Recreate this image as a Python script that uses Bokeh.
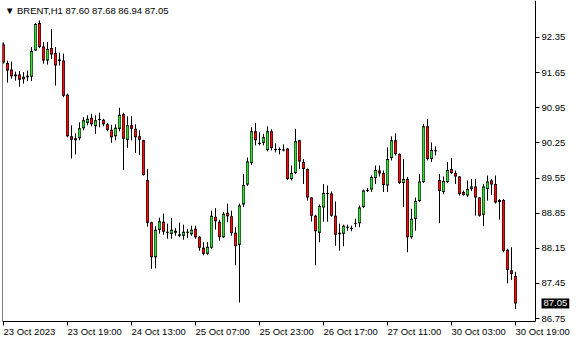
from bokeh.plotting import figure
from bokeh.models import FixedTicker, Label, Range1d, ColumnDataSource, LinearAxis
from bokeh.embed import file_html
from bokeh.resources import INLINE

symbol = "BRENT,H1"

opens = [92.21, 91.84, 91.71, 91.61, 91.61, 91.52, 91.56, 91.57, 92.09, 92.64,
         92.17, 91.89, 92.14, 92.04, 91.91, 91.89, 91.21, 90.38, 90.34, 90.34,
         90.54, 90.65, 90.75, 90.58, 90.71, 90.71, 90.62, 90.51, 90.38, 90.53,
         90.82, 90.31, 90.60, 90.53, 90.38, 90.30, 89.51, 88.67, 87.97, 88.52,
         88.68, 88.48, 88.44, 88.46, 88.43, 88.40, 88.48, 88.43, 88.54, 88.38,
         88.16, 88.04, 88.16, 88.78, 88.68, 88.37, 88.86, 88.79, 88.46, 88.22,
         89.02, 89.42, 89.85, 90.48, 90.25, 90.25, 90.11, 90.48, 90.13, 90.12,
         90.12, 90.14, 89.53, 89.65, 90.30, 89.87, 89.73, 89.16, 88.80, 88.46,
         88.96, 89.25, 89.24, 88.80, 88.46, 88.44, 88.58, 88.55, 88.64, 88.65,
         88.97, 89.29, 89.32, 89.55, 89.70, 89.65, 89.40, 89.95, 90.30, 90.03,
         89.45, 89.53, 88.37, 88.74, 89.09, 89.47, 90.58, 89.93, 90.10, 89.51,
         89.27, 89.47, 89.73, 89.65, 89.58, 89.27, 89.20, 89.33, 89.38, 89.16,
         88.82, 89.33, 89.50, 89.43, 89.07, 89.11, 88.12, 87.71, 87.60]
highs = [92.25, 91.89, 91.87, 91.67, 91.68, 91.66, 91.69, 92.16, 92.64, 92.69,
         92.26, 92.26, 92.52, 92.16, 92.05, 92.03, 91.23, 90.60, 90.44, 90.66,
         90.76, 90.80, 90.83, 90.80, 90.85, 90.73, 90.65, 90.61, 90.62, 90.95,
         90.85, 90.78, 90.78, 90.62, 90.50, 90.31, 89.73, 88.68, 88.59, 88.76,
         88.84, 88.64, 88.75, 88.55, 88.66, 88.62, 88.54, 88.60, 88.60, 88.39,
         88.27, 88.27, 88.90, 88.95, 88.72, 88.87, 89.04, 88.90, 88.57, 89.04,
         89.63, 89.96, 90.56, 90.65, 90.46, 90.43, 90.58, 90.52, 90.24, 90.16,
         90.22, 90.15, 89.80, 90.53, 90.31, 89.93, 89.74, 89.17, 88.82, 89.02,
         89.43, 89.40, 89.28, 89.08, 88.64, 88.62, 88.62, 88.60, 88.74, 89.00,
         89.32, 89.35, 89.60, 89.80, 89.80, 89.70, 90.16, 90.38, 90.44, 90.04,
         89.93, 89.57, 88.94, 89.16, 89.63, 90.63, 90.73, 90.26, 90.18, 89.63,
         89.58, 89.87, 89.95, 89.70, 89.59, 89.30, 89.50, 89.53, 89.53, 89.17,
         89.43, 89.60, 89.53, 89.60, 89.13, 89.13, 88.14, 88.17, 87.68]
lows = [91.83, 91.45, 91.53, 91.49, 91.37, 91.43, 91.48, 91.48, 92.08, 92.14,
        91.83, 91.81, 91.92, 91.39, 91.79, 91.16, 90.36, 89.94, 90.02, 90.30,
        90.50, 90.60, 90.58, 90.43, 90.56, 90.58, 90.48, 90.25, 90.30, 90.48,
        89.71, 90.15, 90.30, 90.05, 90.01, 89.60, 88.58, 87.74, 87.75, 88.44,
        88.42, 88.34, 88.34, 88.40, 88.37, 88.32, 88.35, 88.40, 88.34, 88.10,
        88.01, 88.02, 88.14, 88.52, 88.30, 88.36, 88.67, 88.40, 87.81, 87.07,
        88.97, 89.39, 89.81, 90.20, 90.20, 90.20, 90.08, 90.10, 90.06, 90.02,
        90.08, 89.51, 89.50, 89.63, 89.73, 89.43, 89.10, 88.68, 87.81, 88.27,
        88.68, 88.68, 88.78, 88.20, 88.10, 88.19, 88.50, 88.49, 88.57, 88.57,
        88.95, 89.27, 89.27, 89.43, 89.58, 89.27, 89.27, 89.90, 90.00, 89.43,
        88.97, 88.07, 88.34, 88.50, 89.07, 89.45, 89.90, 89.87, 90.00, 88.65,
        89.23, 89.45, 89.63, 89.43, 89.20, 89.20, 89.17, 89.29, 88.80, 88.78,
        88.59, 89.10, 89.21, 89.04, 88.72, 88.07, 87.45, 87.52, 86.94]
closes = [91.85, 91.69, 91.58, 91.58, 91.51, 91.57, 91.59, 92.08, 92.62, 92.16,
          91.89, 92.12, 92.01, 91.79, 91.88, 91.19, 90.38, 90.31, 90.30, 90.54,
          90.70, 90.73, 90.62, 90.70, 90.72, 90.62, 90.51, 90.36, 90.55, 90.81,
          90.33, 90.60, 90.53, 90.36, 90.31, 89.61, 88.66, 87.97, 88.52, 88.69,
          88.48, 88.46, 88.52, 88.50, 88.40, 88.48, 88.46, 88.52, 88.37, 88.16,
          88.04, 88.18, 88.80, 88.69, 88.37, 88.84, 88.79, 88.45, 88.19, 89.00,
          89.41, 89.88, 90.48, 90.30, 90.23, 90.36, 90.48, 90.15, 90.11, 90.12,
          90.10, 89.53, 89.65, 90.28, 89.88, 89.73, 89.16, 88.80, 88.49, 88.99,
          89.25, 89.23, 88.80, 88.42, 88.43, 88.60, 88.56, 88.54, 88.66, 88.96,
          89.30, 89.31, 89.57, 89.71, 89.64, 89.41, 89.93, 90.30, 90.03, 89.45,
          89.53, 88.37, 88.74, 89.09, 89.48, 90.58, 89.93, 90.11, 90.09, 89.29,
          89.49, 89.71, 89.65, 89.58, 89.23, 89.21, 89.33, 89.38, 89.16, 88.80,
          89.38, 89.48, 89.42, 89.06, 89.11, 88.10, 87.72, 87.64, 87.05]

time_tick_bars = [0, 16, 32, 48, 64, 80, 96, 112, 128]
time_tick_labels = ["23 Oct 2023", "23 Oct 19:00", "24 Oct 13:00", "25 Oct 07:00",
                    "25 Oct 23:00", "26 Oct 17:00", "27 Oct 11:00", "30 Oct 03:00",
                    "30 Oct 19:00"]
price_ticks = [92.35, 91.65, 90.95, 90.25, 89.55, 88.85, 88.15, 87.45, 86.75]
price_tick_labels = ["92.35", "91.65", "90.95", "90.25", "89.55", "88.85", "88.15", "87.45", "86.75"]

BULL = "#3ED63E"
BEAR = "#E81010"
FONT = "Liberation Sans"
FS = "9.5px"

W, H = 580, 340
# the chart window: bars area ends at the price scale (x_edge) and at the time scale (y_edge)
x_lo, x_edge, x_hi = -0.25, 133.0, 144.25
y_lo, y_edge, y_hi = 86.312, 86.69, 93.087
px = (y_hi - y_lo) / H          # one screen pixel in price units

n = len(opens)
bars = list(range(n))
mids = [(o + c) / 2 for o, c in zip(opens, closes)]
# black body at least one pixel tall; coloured core inset by one pixel
b_top = [max(max(o, c), m + px / 2) for o, c, m in zip(opens, closes, mids)]
b_bot = [min(min(o, c), m - px / 2) for o, c, m in zip(opens, closes, mids)]
core_top = [t - px if (t - b) > 2 * px else m for t, b, m in zip(b_top, b_bot, mids)]
core_bot = [b + px if (t - b) > 2 * px else m for t, b, m in zip(b_top, b_bot, mids)]
fills = [BULL if c > o else (BEAR if c < o else "black") for o, c in zip(opens, closes)]

src = ColumnDataSource(dict(x=bars, h=highs, l=lows, bt=b_top, bb=b_bot,
                            ct=core_top, cb=core_bot, fill=fills))

p = figure(width=W, height=H, output_backend="svg", toolbar_location=None,
           x_range=Range1d(x_lo, x_hi), y_range=Range1d(y_lo, y_hi),
           min_border_left=2, min_border_right=0, min_border_top=0, min_border_bottom=0,
           x_axis_location=None, y_axis_location=None)
p.outline_line_color = None
p.xgrid.visible = False
p.ygrid.visible = False
p.background_fill_color = "white"
p.border_fill_color = "white"

# left frame line
p.segment(x0=[x_lo], y0=[y_edge], x1=[x_lo], y1=[92.25], line_color="black", line_width=1)

# wicks, black bodies, coloured cores
p.segment(x0="x", y0="l", x1="x", y1="h", source=src, line_color="black", line_width=1)
p.vbar(x="x", top="bt", bottom="bb", width=0.75, fill_color="black", line_color=None, source=src)
p.vbar(x="x", top="ct", bottom="cb", width=0.5, fill_color="fill", line_color=None, source=src)

# price scale
ya = LinearAxis(fixed_location=x_edge, bounds=(y_edge, y_hi))
p.add_layout(ya, "right")
ya.ticker = FixedTicker(ticks=price_ticks)
ya.major_label_overrides = {t: s for t, s in zip(price_ticks, price_tick_labels)}
ya.major_tick_out = 4
ya.major_tick_in = 0
ya.minor_tick_out = 0
ya.minor_tick_in = 0
ya.major_label_standoff = 2
ya.axis_line_color = "black"
ya.major_tick_line_color = "black"
ya.major_label_text_font = FONT
ya.major_label_text_font_size = FS
ya.major_label_text_color = "black"

# time scale
xa = LinearAxis(fixed_location=y_edge, bounds=(x_lo, x_edge))
p.add_layout(xa, "below")
xa.ticker = FixedTicker(ticks=time_tick_bars)
xa.major_label_overrides = {t: s for t, s in zip(time_tick_bars, time_tick_labels)}
xa.major_label_orientation = -0.0001
xa.major_tick_out = 4
xa.major_tick_in = 0
xa.minor_tick_out = 0
xa.minor_tick_in = 0
xa.major_label_standoff = 6
xa.axis_line_color = "black"
xa.major_tick_line_color = "black"
xa.major_label_text_font = FONT
xa.major_label_text_font_size = FS
xa.major_label_text_color = "black"

title = "\u25bc %s  %.2f %.2f %.2f %.2f" % (symbol, opens[-1], highs[-1], lows[-1], closes[-1])
p.add_layout(Label(x=0.35, y=92.99, text=title, text_align="left", text_baseline="top",
                   text_font=FONT, text_font_size=FS, text_color="black"))

# current price marker on the price scale
p.add_layout(Label(x=x_edge + 1.5, y=closes[-1],
                   text="%.2f" % closes[-1], text_align="left",
                   text_baseline="middle", text_font=FONT, text_font_size=FS,
                   text_color="white", background_fill_color="black", padding=2))

open("out.html", "w").write(file_html(p, INLINE))
